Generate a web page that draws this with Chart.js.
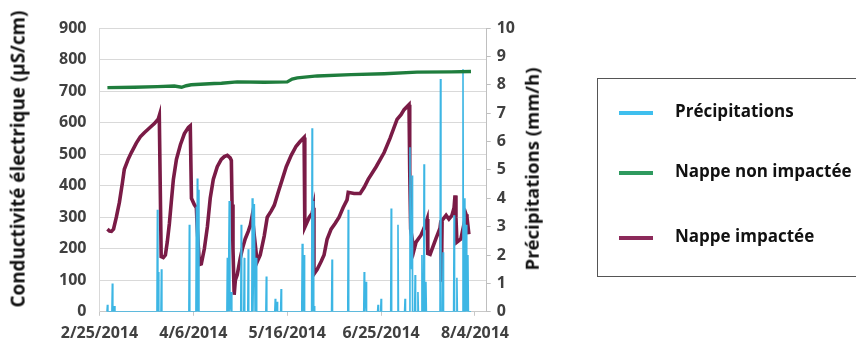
<!DOCTYPE html>
<html>
<head>
<meta charset="utf-8">
<script src="https://cdn.jsdelivr.net/npm/chart.js@4.4.1/dist/chart.umd.min.js"></script>
<style>
  html, body { margin: 0; padding: 0; background: #ffffff; }
  #wrap { position: relative; width: 856px; height: 352px; overflow: hidden; background: #fff; }
  #c { position: absolute; left: 0; top: 0; }
  .ytitle { position: absolute; font-family: "Open Sans", sans-serif; font-weight: bold; color: #111;
    white-space: nowrap; transform: translate(-50%, -50%) rotate(-90deg); line-height: 1; font-size: 20px; }
  #legend { position: absolute; left: 597px; top: 78px; width: 262px; height: 199px;
    border: 1.5px solid #555; box-sizing: border-box; font-family: "Open Sans", sans-serif; }
  .item { position: absolute; left: 0; height: 20px; }
  .item .sample { position: absolute; left: 21px; top: 8px; width: 34px; height: 4px; }
  .item .txt { position: absolute; left: 77px; top: -4px; font-weight: bold; font-size: 17px; color: #111; white-space: nowrap; }
</style>
</head>
<body>
<div id="wrap">
  <canvas id="c" width="856" height="352"></canvas>
  <div class="ytitle" id="tl" style="left:18px; top:159px;"></div>
  <div class="ytitle" id="tr" style="left:532px; top:169px;"></div>
  <div id="legend"></div>
</div>
<script>
// ---- Data ----
const seriesNames = ["Précipitations", "Nappe non impactée", "Nappe impactée"];
const axisTitles = ["Conductivité électrique (µS/cm)", "Précipitations (mm/h)"];
const seriesColors = ["#3db6e4", "#1f7d3d", "#7a1b46"];
const legendColors = ["#3fbfee", "#2e9a5f", "#8c2a5a"];
const xTickDays = [0, 40, 80, 120, 160];
const xTickLabels = ["2/25/2014", "4/6/2014", "5/16/2014", "6/25/2014", "8/4/2014"];

// days since 2/25/2014
const impactDays = [3.4,4.3,5.1,6.0,7.2,8.5,9.8,10.6,12.3,13.6,15.7,17.4,19.1,21.3,23.4,25.1,25.5,
  25.9,26.3,27.2,28.1,28.9,29.8,30.6,31.5,32.8,34.5,36.2,37.9,38.7,
  39.2,40.4,41.3,41.7,42.6,43.4,44.7,46.0,47.2,48.5,50.2,51.9,53.2,54.5,55.7,56.2,
  56.5,56.9,57.4,57.9,58.7,60.0,60.9,62.1,63.4,64.3,65.1,
  66.0,67.2,68.5,70.2,71.5,73.2,74.5,76.2,77.9,79.6,81.7,83.8,85.5,87.2,
  87.5,89.4,90.6,91.1,91.4,92.8,94.5,95.7,97.0,98.7,100.4,102.1,103.8,105.5,106.0,108.5,111.1,112.8,114.5,117.9,121.3,123.8,126.8,128.5,129.8,131.9,
  132.2,132.6,134.0,134.9,137.0,138.3,139.6,139.9,140.9,143.4,145.1,145.5,145.7,146.0,147.7,148.9,150.2,151.1,151.5,151.9,152.3,154.0,156.2,156.6,157.4];
const impactValues = [262,256,255,262,300,347,410,452,485,505,535,555,568,583,597,612,622,
  400,175,172,180,221,280,347,420,483,530,565,585,590,
  360,340,330,260,150,152,200,270,360,420,460,483,492,496,488,480,
  340,200,54,100,117,170,200,231,255,275,306,
  240,158,180,240,300,320,338,380,420,460,496,525,540,553,
  268,300,312,330,120,135,160,180,230,262,280,300,330,355,379,375,375,395,420,460,505,550,610,625,641,657,
  450,262,195,221,243,265,294,185,182,233,265,290,95,290,306,294,306,330,369,300,221,231,309,300,246];

const nonImpactDays = [3.4,14.9,24.7,31.9,35.0,37.0,39.1,48.9,52.0,58.7,70.2,80.0,82.1,84.3,92.8,107.2,121.3,135.3,149.8,158.3];
const nonImpactValues = [711,712,714,716,712,717,720,724,725,729,728,729,738,742,748,752,755,760,761,762];

const precipDays = [3.2,3.4,3.6,5.3,5.5,5.7,6.2,6.4,6.6,
  24.5,24.7,24.9,25.1,25.3,26.2,26.4,26.6,
  38.1,38.3,38.5,
  41.1,41.3,41.5,41.7,41.9,42.2,42.4,
  54.3,54.5,54.9,55.3,55.6,56.2,56.4,
  60.2,60.4,60.6,61.5,61.7,61.9,63.2,63.4,63.6,64.9,65.1,65.4,66.0,66.3,66.8,67.0,
  70.9,71.1,71.3,74.7,74.9,75.1,75.7,75.9,77.2,77.4,77.6,
  86.2,86.4,86.7,87.2,87.4,90.4,90.6,90.8,91.1,91.3,91.5,91.7,
  98.9,99.1,99.3,105.8,106.0,106.2,
  112.6,112.8,113.0,113.6,113.8,118.5,118.7,118.9,119.8,120.0,120.2,
  124.1,124.3,124.5,127.0,127.2,127.4,130.0,130.2,130.4,
  132.1,132.3,132.5,132.8,133.0,133.2,133.4,134.3,134.5,134.7,135.5,135.7,135.9,137.2,137.4,137.6,138.1,138.3,138.5,138.9,139.1,139.3,
  145.1,145.3,145.5,146.2,146.4,146.6,
  150.9,151.1,151.3,152.1,152.3,152.5,
  154.7,154.9,155.1,155.5,155.7,155.9,156.2,156.5,157.0,157.2,158.3];
const precipValues = [0,0.25,0,0,1.0,0,0,0.2,0,
  0,3.6,0,1.4,0,0,1.5,0,
  0,3.07,0,
  0,3.7,0,4.7,0,4.3,0,
  0,1.9,0,3.9,0,0.7,0,
  0,3.07,0,0,1.9,0,0,2.2,0,0,4.0,0,3.8,0,1.9,0,
  0,1.24,0,0,0.46,0,0.35,0,0,0.8,0,
  0,2.4,0,2.0,0,0,6.47,0,3.9,0,0.2,0,
  0,1.84,0,0,3.6,0,
  0,1.4,0,1.06,0,0,0.25,0,0,0.46,0,
  0,3.64,0,0,3.07,0,0,0.46,0,
  0,5.8,2.0,2.7,1.5,4.8,0,0,1.3,0,0,0.7,0,0,2.0,0,0,5.2,0,0,1.06,0,
  0,8.2,0,0,2.1,0,
  0,3.4,0,0,1.2,0,
  0,8.55,0,0,4.0,0,3.07,0,2.0,0,0];

// ---- Build chart ----
const toXY = (xs, ys) => xs.map((x, i) => ({ x: x, y: ys[i] }));
const FONT = '"Open Sans", sans-serif';
const tickFont = { family: FONT, size: 16, weight: 'bold' };

new Chart(document.getElementById('c'), {
  type: 'line',
  data: {
    datasets: [
      { label: seriesNames[2], data: toXY(impactDays, impactValues), yAxisID: 'y',
        borderColor: seriesColors[2], borderWidth: 3.6, pointRadius: 0, tension: 0, order: 2 },
      { label: seriesNames[0], data: toXY(precipDays, precipValues), yAxisID: 'y2',
        borderColor: seriesColors[0], borderWidth: 1.6, pointRadius: 0, tension: 0, order: 1 },
      { label: seriesNames[1], data: toXY(nonImpactDays, nonImpactValues), yAxisID: 'y',
        borderColor: seriesColors[1], borderWidth: 3.4, pointRadius: 0, tension: 0, order: 0 }
    ]
  },
  options: {
    responsive: false,
    animation: false,
    layout: { padding: { left: 46, right: 335, top: 28, bottom: 1 } },
    plugins: { legend: { display: false }, tooltip: { enabled: false } },
    scales: {
      x: {
        type: 'linear', min: 0, max: 165,
        afterBuildTicks: (s) => { s.ticks = xTickDays.map(v => ({ value: v })); },
        ticks: {
          callback: (v) => { const i = xTickDays.indexOf(v); return i >= 0 ? xTickLabels[i] : ''; },
          font: tickFont, color: '#404040', maxRotation: 0, padding: 8
        },
        grid: { drawOnChartArea: false, drawTicks: true, tickLength: 4, color: '#c8c8c8' },
        border: { color: '#c8c8c8' }
      },
      y: {
        position: 'left', min: 0, max: 900,
        ticks: { stepSize: 100, font: tickFont, color: '#404040', padding: 13 },
        grid: { color: '#d9d9d9', drawTicks: false },
        border: { color: '#d9d9d9' }
      },
      y2: {
        position: 'right', min: 0, max: 10,
        ticks: { stepSize: 1, font: tickFont, color: '#404040', padding: 6 },
        grid: { drawOnChartArea: false, drawTicks: true, tickLength: 4, color: '#bfbfbf' },
        border: { color: '#bfbfbf' }
      }
    }
  }
});

// axis titles as real text, sized to the reference lengths
const titleLengths = [297, 203];
['tl', 'tr'].forEach((id, i) => {
  const el = document.getElementById(id);
  el.textContent = axisTitles[i];
  const w = el.scrollWidth;
  el.style.fontSize = (20 * titleLengths[i] / w).toFixed(2) + 'px';
});

// ---- HTML legend (boxed, right side) ----
const legend = document.getElementById('legend');
const rowsY = [24, 84, 149];
seriesNames.forEach((name, i) => {
  const d = document.createElement('div');
  d.className = 'item';
  d.style.top = rowsY[i] + 'px';
  d.innerHTML = '<div class="sample" style="background:' + legendColors[i] + '"></div><div class="txt"></div>';
  d.querySelector('.txt').textContent = name;
  legend.appendChild(d);
});
</script>
</body>
</html>
